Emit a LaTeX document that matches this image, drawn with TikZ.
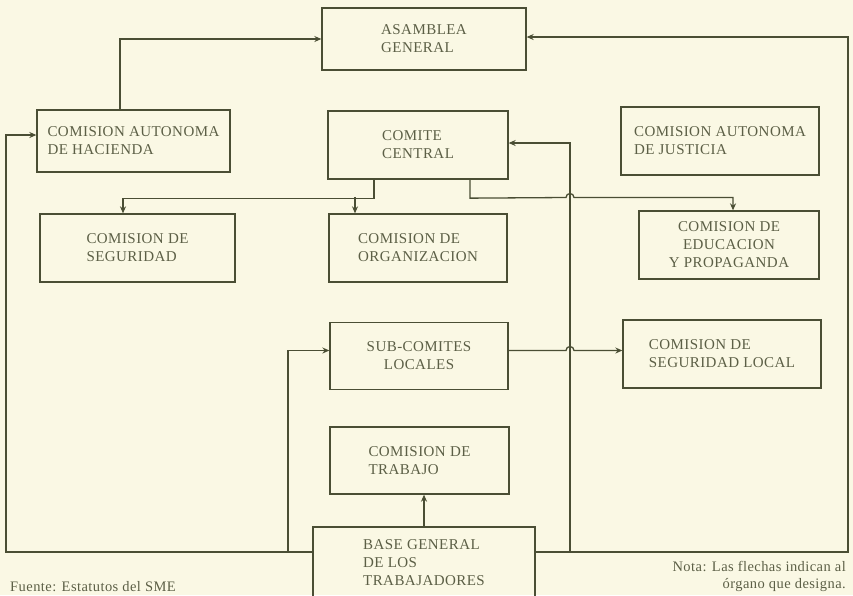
\documentclass[tikz,border=0pt]{standalone}
\usepackage{fontspec}
\setmainfont{Liberation Serif}[LetterSpace=3]
\usepackage{tikz}
\usetikzlibrary{arrows.meta, positioning}
\definecolor{tinta}{RGB}{74,78,52}
\definecolor{papel}{RGB}{250,248,228}

\begin{document}
\begin{tikzpicture}[x=1pt, y=-1pt,
      >={Stealth[length=7pt, width=6pt]},
      caja/.style={rectangle, draw=tinta, line width=1.3pt, align=left, inner sep=0pt,
        text=tinta!90!papel, font=\fontsize{15}{18}\selectfont},
      nota/.style={inner sep=0pt, text=tinta!90!papel, font=\fontsize{14.5}{17}\selectfont},
      flecha/.style={->, draw=tinta, line width=1.3pt}]
    \useasboundingbox (0,0) rectangle (853,595);
    \fill[papel] (0,0) rectangle (853,595);
    \clip (0,0) rectangle (853,595);

    % organos
    \node[caja, minimum width=204, minimum height=62] (asamblea) at (424,39) {ASAMBLEA\\GENERAL};
    \node[caja, minimum width=193, minimum height=62] (hacienda) at (133.5,141) {COMISION AUTONOMA\\DE HACIENDA};
    \node[caja, minimum width=180, minimum height=68] (central) at (418,145) {COMITE\\CENTRAL};
    \node[caja, minimum width=198, minimum height=68] (justicia) at (720,141) {COMISION AUTONOMA\\DE JUSTICIA};
    \node[caja, minimum width=195, minimum height=68] (seguridad) at (137.5,248) {COMISION DE\\SEGURIDAD};
    \node[caja, minimum width=178, minimum height=68] (organizacion) at (418,248) {COMISION DE\\ORGANIZACION};
    \node[caja, align=center, minimum width=180, minimum height=68] (educacion) at (729,245) {COMISION DE\\EDUCACION\\Y PROPAGANDA};
    \node[caja, align=center, minimum width=178, minimum height=67] (subcomites) at (419,356) {SUB-COMITES\\LOCALES};
    \node[caja, minimum width=198, minimum height=68] (seglocal) at (722,354) {COMISION DE\\SEGURIDAD LOCAL};
    \node[caja, minimum width=179, minimum height=67] (trabajo) at (419.5,460.5) {COMISION DE\\TRABAJO};
    \node[caja, minimum width=222, minimum height=72] (base) at (424,563) {BASE GENERAL\\DE LOS\\TRABAJADORES};

    % puntos de las lineas
    \coordinate (izq) at (6,552);
    \coordinate (der) at (848,552);
    \coordinate (rama) at (288,552);
    \coordinate (cruce) at (570,552);
    \coordinate (salto1) at (570,197.5);
    \coordinate (salto2) at (570,350.5);

    % designaciones
    \draw[flecha] ([xshift=-13.5pt]hacienda.north) |- (asamblea.west);
    \draw[flecha] (izq -| base.west) -- (izq) |- ([yshift=6pt]hacienda.west);
    \draw[flecha] (rama) |- ([yshift=5.5pt]subcomites.west);
    \draw[flecha] (der -| base.east) -- (der) |- ([yshift=2pt]asamblea.east);
    \draw[flecha] (cruce) |- ([yshift=2pt]central.east);
    \draw[flecha] (base.north) -- (base.north |- trabajo.south);
    \draw[flecha] ([xshift=-44pt]central.south) -- ++(0,18.5) -| ([xshift=-14.5pt]seguridad.north);
    \draw[flecha] ([xshift=-63pt]organizacion.north) ++(0,-16.5) -- ([xshift=-63pt]organizacion.north);
    \draw[flecha] ([xshift=52pt]central.south) -- ++(0,18.5) -- ([xshift=-4pt]salto1)
      arc[start angle=180, end angle=0, radius=4pt] -| ([xshift=4pt]educacion.north);
    \draw[flecha] ([yshift=5.5pt]subcomites.east) -- ([xshift=-4pt]salto2)
      arc[start angle=180, end angle=0, radius=4pt] -- ([yshift=3.5pt]seglocal.west);

    % notas
    \node[nota, anchor=west] (fuente) at (10,587) {Fuente: Estatutos del SME};
    \node[nota, align=right, anchor=north east] (aviso) at (846,561) {Nota: Las flechas indican al\\órgano que designa.};
  \end{tikzpicture}
\end{document}
